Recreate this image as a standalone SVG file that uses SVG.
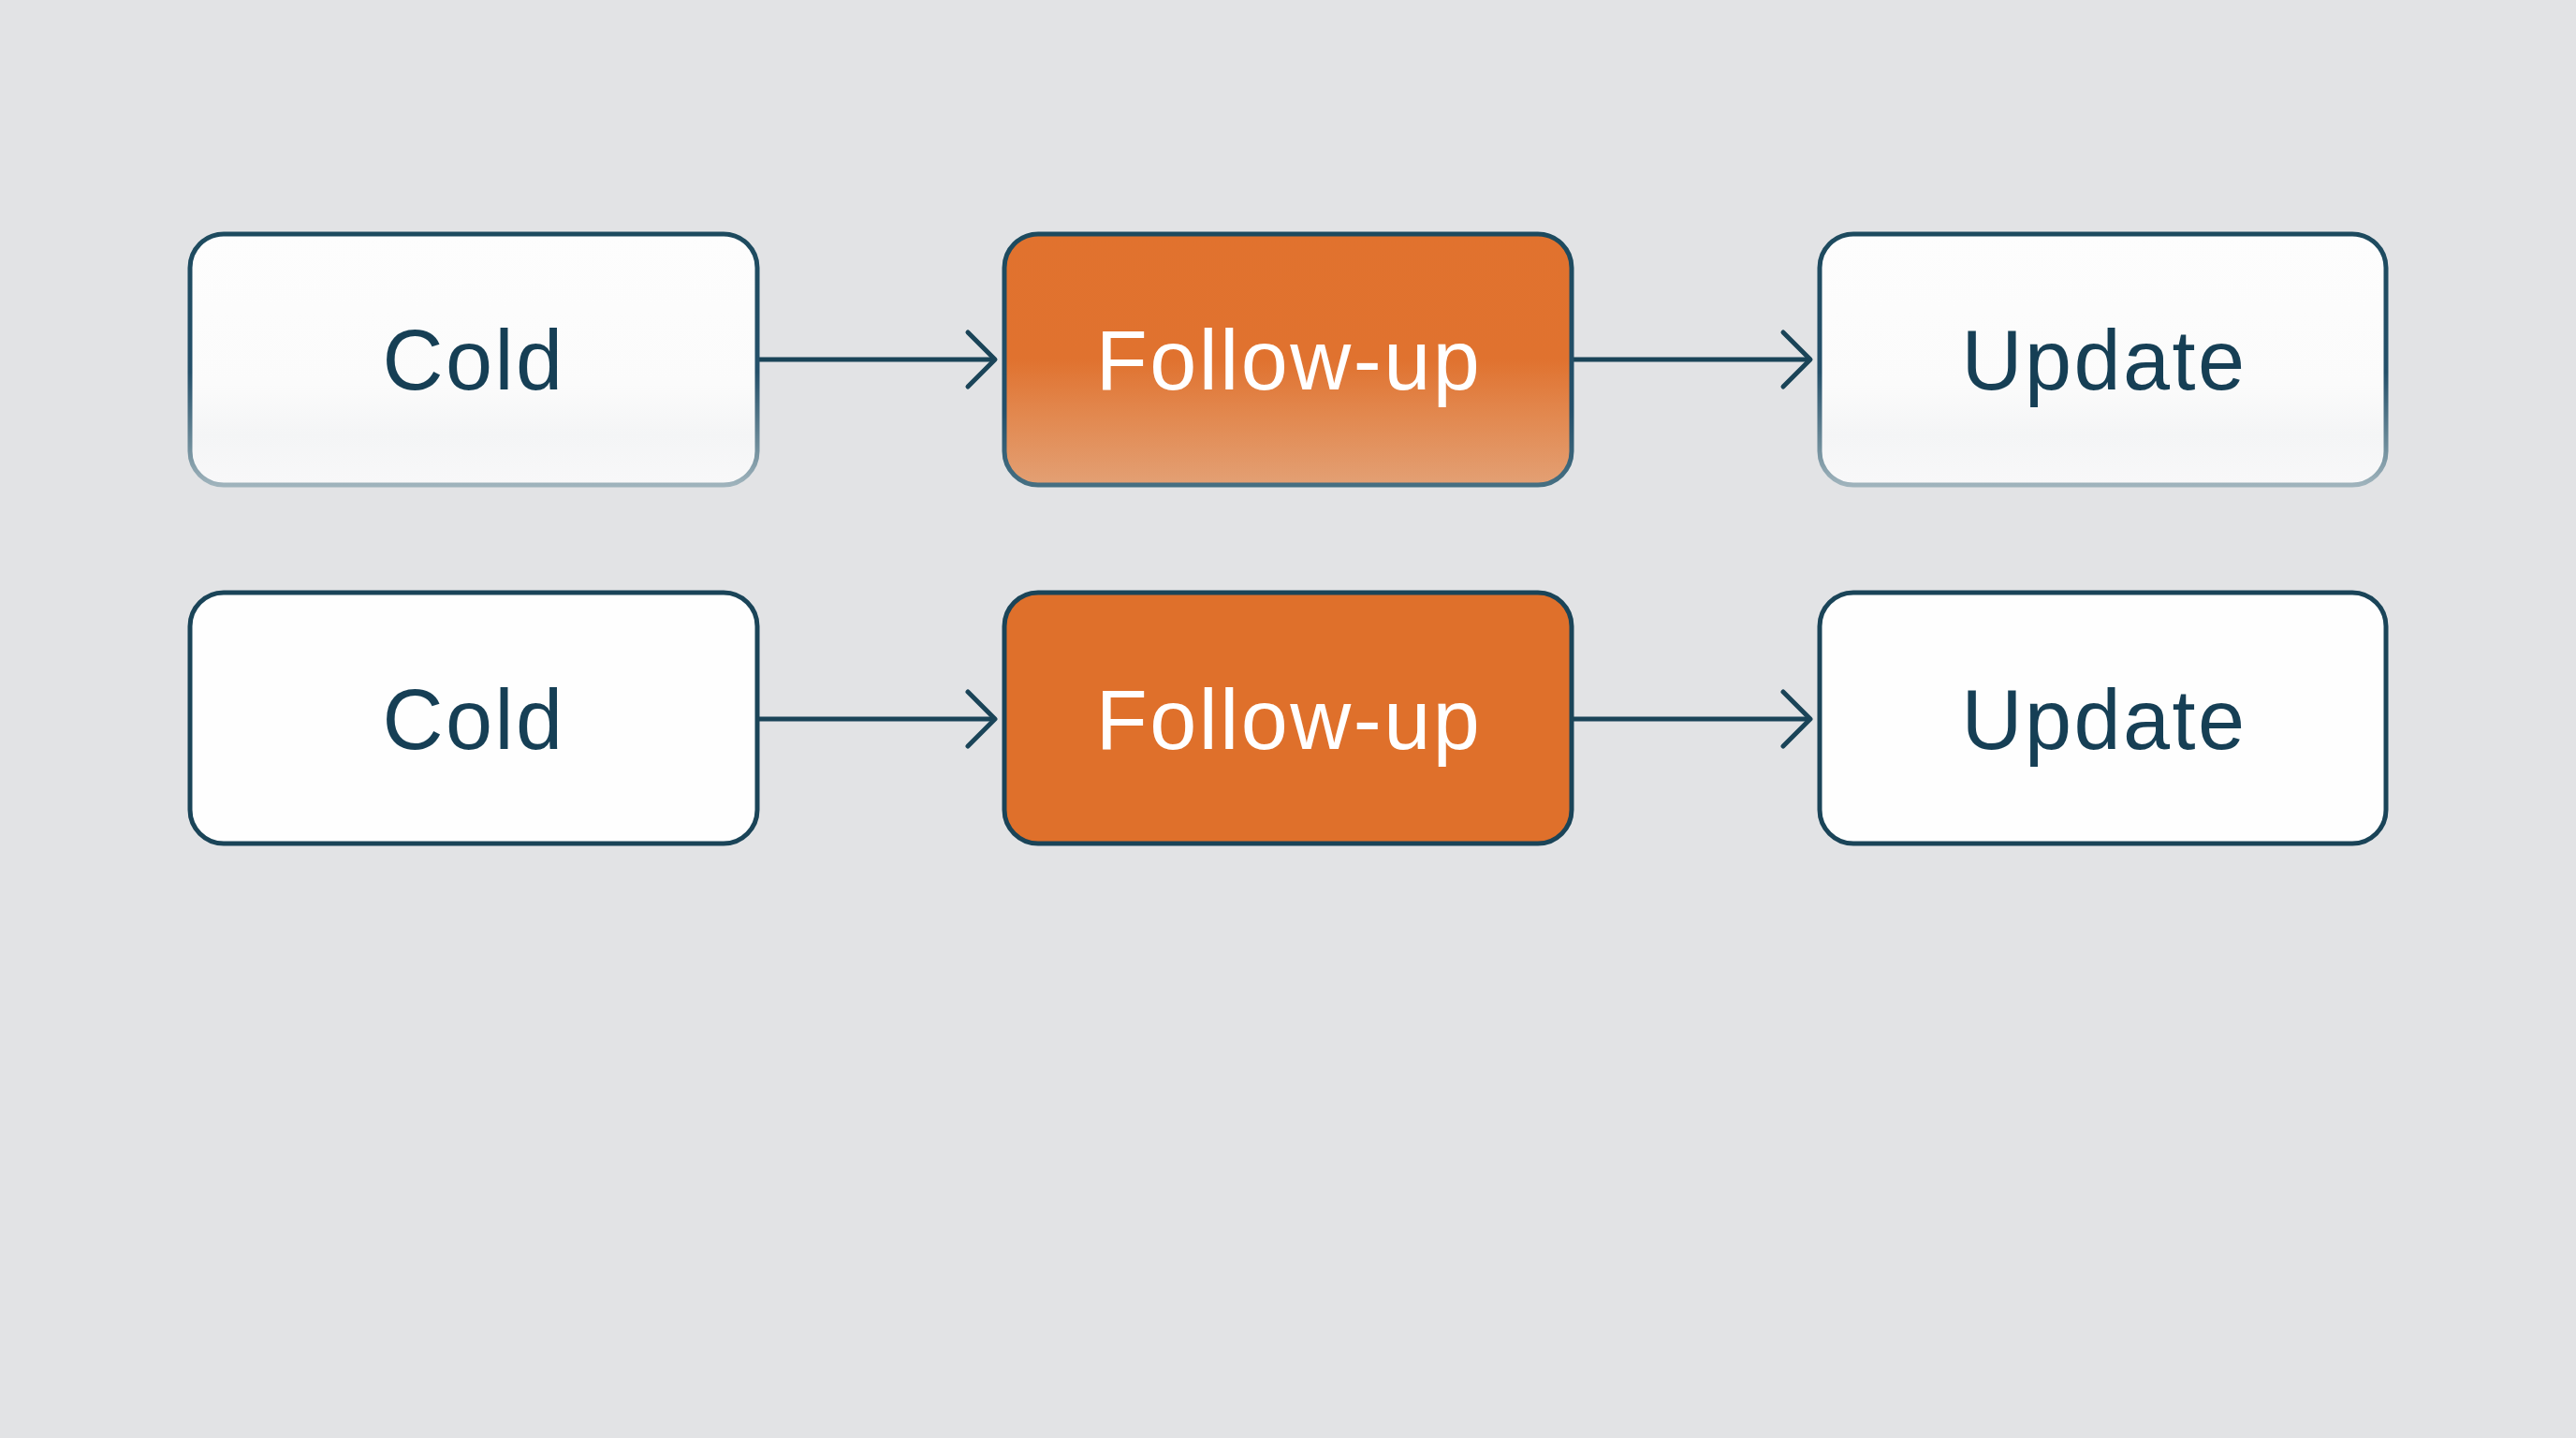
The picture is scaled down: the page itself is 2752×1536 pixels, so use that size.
<svg xmlns="http://www.w3.org/2000/svg" width="2752" height="1536" viewBox="0 0 2752 1536">
  <defs>
    <style>
      .box { stroke-width: 5; }
      .label { font-family: "Liberation Sans", Arial, sans-serif; font-size: 90px; text-anchor: middle; letter-spacing: 2.5px; }
      .dark { fill: #163f55; }
      .light { fill: #ffffff; }
      .conn { stroke: #1a4458; stroke-width: 5; fill: none; marker-end: url(#chev); }
    </style>
    <linearGradient id="whiteFade" x1="0" y1="0" x2="0" y2="1">
      <stop offset="0" stop-color="#fdfdfd"/>
      <stop offset="0.6" stop-color="#fbfbfb"/>
      <stop offset="0.8" stop-color="#f4f5f6"/>
      <stop offset="1" stop-color="#f8f8f9"/>
    </linearGradient>
    <linearGradient id="orangeFade" x1="0" y1="0" x2="0" y2="1">
      <stop offset="0" stop-color="#e1722e"/>
      <stop offset="0.5" stop-color="#e0722f"/>
      <stop offset="0.72" stop-color="#e2884f"/>
      <stop offset="1" stop-color="#e3a074"/>
    </linearGradient>
    <linearGradient id="strokeFade" x1="0" y1="0" x2="0" y2="1">
      <stop offset="0" stop-color="#1d4a5e"/>
      <stop offset="0.55" stop-color="#24506a"/>
      <stop offset="0.85" stop-color="#6f8d9b"/>
      <stop offset="1" stop-color="#9fb3bc"/>
    </linearGradient>
    <linearGradient id="strokeFadeO" x1="0" y1="0" x2="0" y2="1">
      <stop offset="0" stop-color="#1d4a5e"/>
      <stop offset="0.7" stop-color="#24506a"/>
      <stop offset="1" stop-color="#456f82"/>
    </linearGradient>
    <marker id="chev" viewBox="-34 -34 40 68" markerWidth="40" markerHeight="68" refX="0" refY="0" orient="auto" markerUnits="userSpaceOnUse">
      <path d="M -29 -29 L 0 0 L -29 29" fill="none" stroke="#1a4458" stroke-width="5" stroke-linecap="round" stroke-linejoin="round"/>
    </marker>
  </defs>

  <rect x="0" y="0" width="2752" height="1536" fill="#e2e3e5"/>

  <g id="connectors">
    <line class="conn" x1="809" y1="384" x2="1063" y2="384"/>
    <line class="conn" x1="1680" y1="384" x2="1934" y2="384"/>
    <line class="conn" x1="809" y1="768" x2="1063" y2="768"/>
    <line class="conn" x1="1680" y1="768" x2="1934" y2="768"/>
  </g>

  <g id="cold-1">
    <rect class="box" x="203" y="250" width="606" height="268" rx="36" fill="url(#whiteFade)" stroke="url(#strokeFade)"/>
    <text class="label dark" x="506" y="416">Cold</text>
  </g>
  <g id="followup-1">
    <rect class="box" x="1073" y="250" width="606" height="268" rx="36" fill="url(#orangeFade)" stroke="url(#strokeFadeO)"/>
    <text class="label light" x="1377" y="416">Follow-up</text>
  </g>
  <g id="update-1">
    <rect class="box" x="1944" y="250" width="605" height="268" rx="36" fill="url(#whiteFade)" stroke="url(#strokeFade)"/>
    <text class="label dark" x="2248" y="416">Update</text>
  </g>

  <g id="cold-2">
    <rect class="box" x="203" y="633" width="606" height="268" rx="36" fill="#fefefe" stroke="#1a4458"/>
    <text class="label dark" x="506" y="800">Cold</text>
  </g>
  <g id="followup-2">
    <rect class="box" x="1073" y="633" width="606" height="268" rx="36" fill="#df702b" stroke="#1a4458"/>
    <text class="label light" x="1377" y="800">Follow-up</text>
  </g>
  <g id="update-2">
    <rect class="box" x="1944" y="633" width="605" height="268" rx="36" fill="#fefefe" stroke="#1a4458"/>
    <text class="label dark" x="2248" y="800">Update</text>
  </g>
</svg>
